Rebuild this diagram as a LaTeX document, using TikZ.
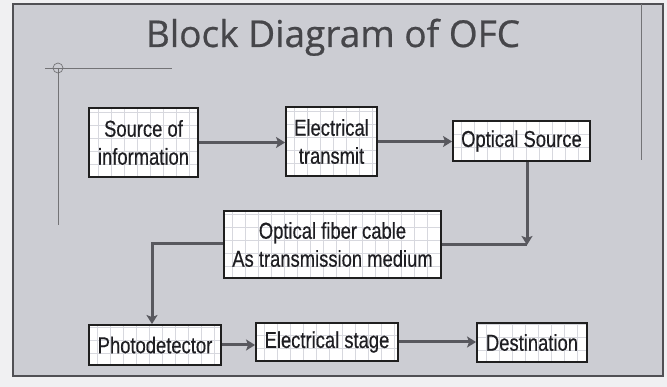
\documentclass[tikz,border=0pt]{standalone}
\usepackage{fontspec}
\setmainfont{Liberation Sans}
\newfontfamily\titlefont[FakeBold=0.6]{Open Sans}
\newfontfamily\boxfont[FakeStretch=0.8,FakeBold=0.4]{Liberation Sans}
\usetikzlibrary{arrows.meta}
\definecolor{pagebg}{RGB}{240,240,242}
\definecolor{panel}{RGB}{204,205,211}
\definecolor{framec}{RGB}{80,80,84}
\definecolor{arrowc}{RGB}{88,88,94}
\definecolor{textc}{RGB}{30,30,34}
\definecolor{titlec}{RGB}{70,70,74}
\definecolor{gridc}{RGB}{215,216,222}
\tikzset{
  blk/.style={draw=black!88, line width=1.9pt, fill=white, inner sep=0pt,
    align=center, text=textc, font=\boxfont\fontsize{23}{28}\selectfont,
    path picture={\draw[gridc, line width=0.5pt, step=13pt]
      (path picture bounding box.south west) grid (path picture bounding box.north east);}},
  arr/.style={draw=arrowc, line width=3pt, -{Stealth[length=9pt,width=11pt,inset=2pt]}},
  ln/.style={draw=arrowc, line width=3pt},
  guide/.style={draw=framec!80, line width=0.7pt}
}
\begin{document}
\begin{tikzpicture}[x=1pt,y=-1pt]
\useasboundingbox (0,0) rectangle (667,387);
\fill[pagebg] (0,0) rectangle (667,387);
\draw[draw=framec, line width=1.4pt, fill=panel] (13,4) rectangle (663,376);
% slide guide marks
\draw[guide] (45,68) -- (172,68);
\draw[guide] (58,68) -- (58,225);
\draw[guide] (58,68) circle (5pt);
\draw[guide] (641,4) -- (641,160);
% title
\node[anchor=base, text=titlec, font=\titlefont\fontsize{37}{40}\selectfont] (title) at (333,47) {Block Diagram of OFC};
% blocks
\node[blk, minimum width=109pt, minimum height=69pt] (src) at (143.5,142.5) {Source of\\information};
\node[blk, minimum width=91pt, minimum height=69pt] (etx) at (331.5,141.5) {Electrical\\transmit};
\node[blk, minimum width=137pt, minimum height=40pt] (osrc) at (521.5,141) {Optical Source};
\node[blk, minimum width=217pt, minimum height=67pt] (fiber) at (332.5,244.5) {Optical fiber cable\\As transmission medium};
\node[blk, minimum width=132pt, minimum height=40pt] (pd) at (155,345) {Photodetector};
\node[blk, minimum width=142pt, minimum height=38pt] (es) at (327,342) {Electrical stage};
\node[blk, minimum width=110pt, minimum height=39pt] (dest) at (532,342.5) {Destination};
% connectors
\coordinate (j) at (527,245);
\coordinate (k) at (152,244);
\draw[arr] (src.east) -- (src.east -| etx.west);
\draw[arr] (etx.east) -- (etx.east -| osrc.west);
\draw[ln] (fiber.east |- j) -- (j);
\draw[arr] (osrc.south -| j) -- (j);
\draw[arr] (fiber.west |- k) -- (k) -- (k |- pd.north);
\draw[arr] (pd.east) -- (pd.east -| es.west);
\draw[arr] (es.east) -- (es.east -| dest.west);
\end{tikzpicture}
\end{document}
